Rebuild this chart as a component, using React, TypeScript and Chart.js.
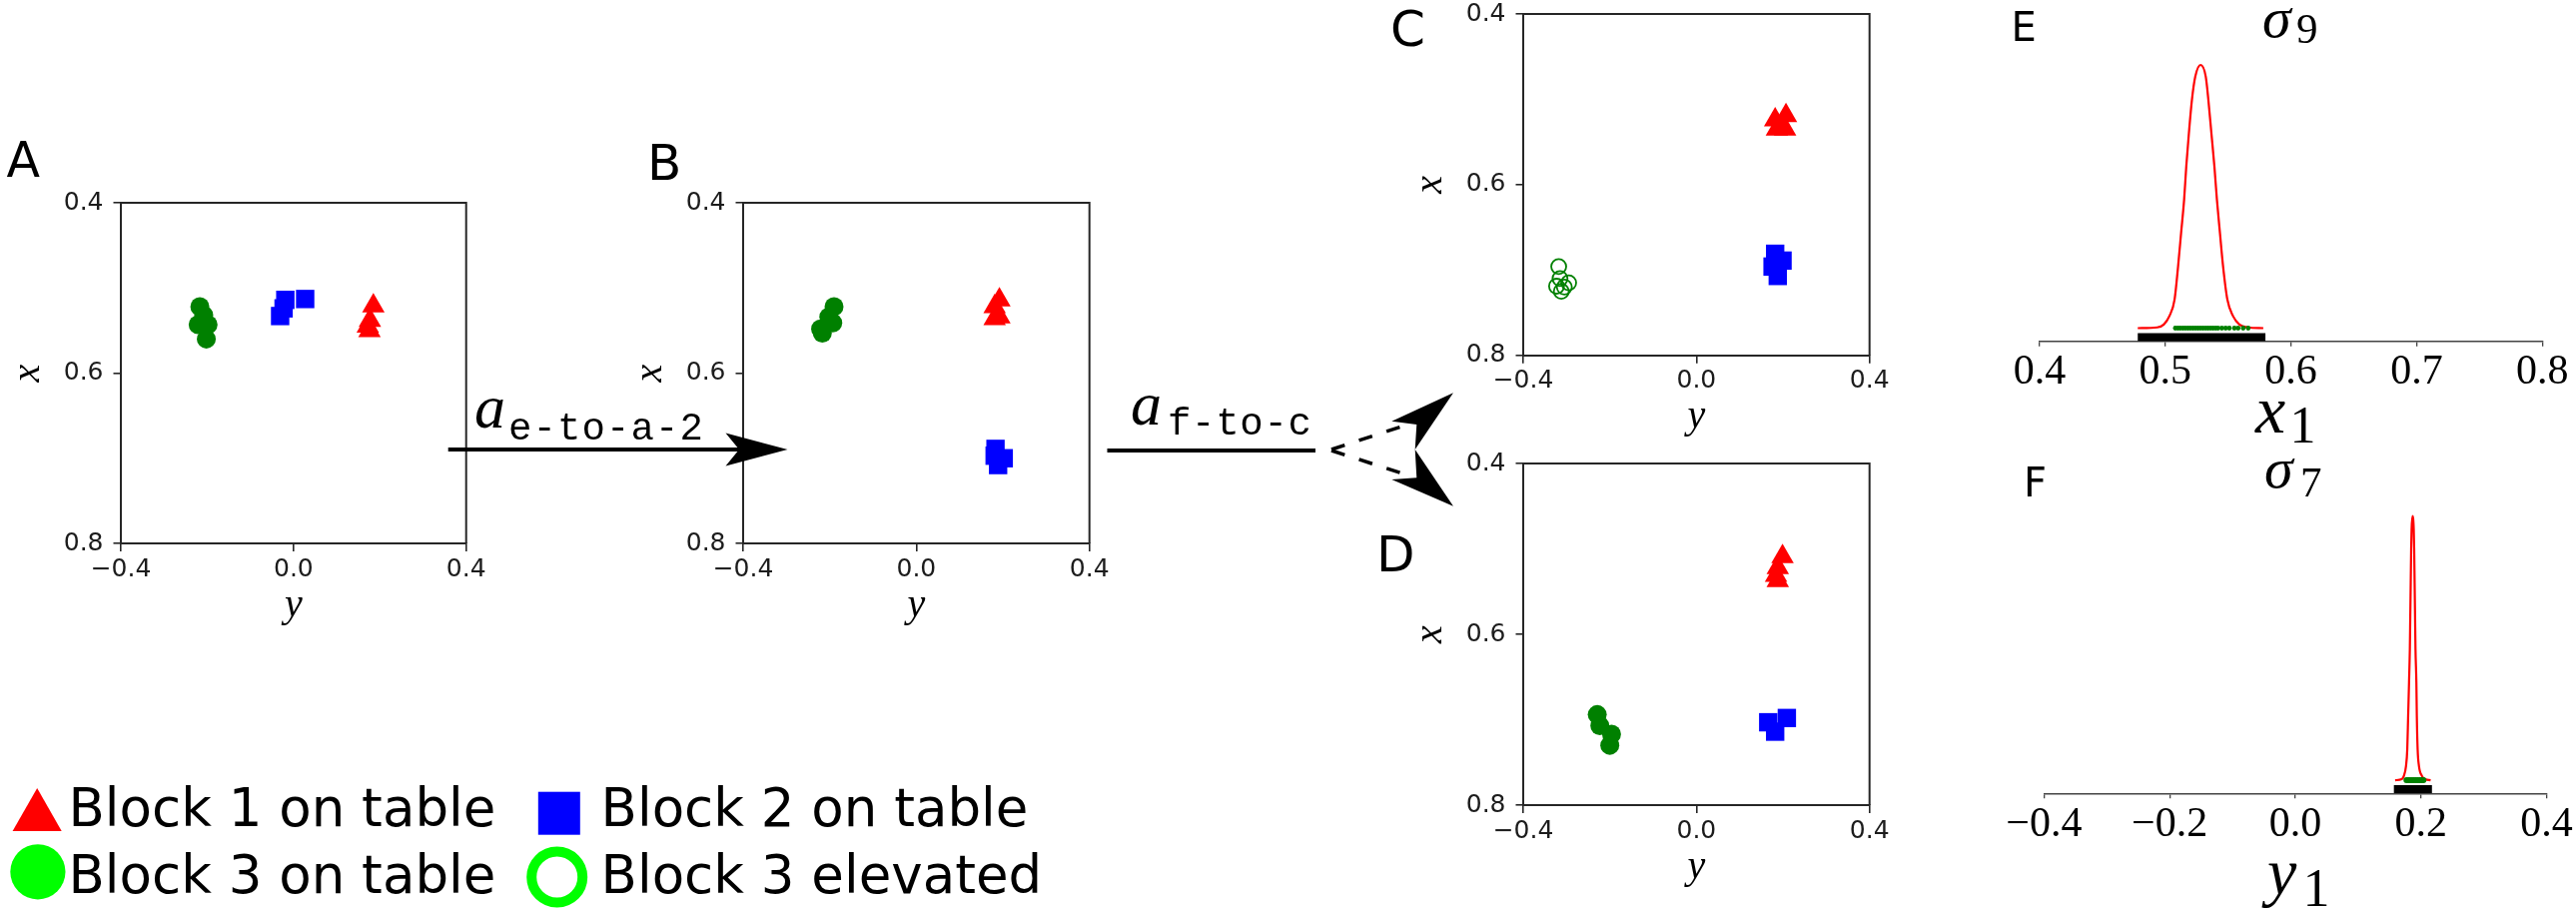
import React, { useEffect, useRef } from 'react';
import { Chart, registerables } from 'chart.js';
Chart.register(...registerables);

// ---------------- data ----------------
// scatter points are [y (horizontal axis), x (vertical axis)]
type P = [number, number];

const A_BLOCK1: P[] = [[0.185, 0.521], [0.177, 0.538], [0.172, 0.545], [0.176, 0.550]];
const A_BLOCK2: P[] = [[0.027, 0.513], [-0.019, 0.514], [-0.023, 0.524], [-0.031, 0.533]];
const A_BLOCK3: P[] = [[-0.217, 0.522], [-0.208, 0.532], [-0.221, 0.543], [-0.198, 0.543], [-0.202, 0.560]];

const B_BLOCK1: P[] = [[0.192, 0.514], [0.181, 0.522], [0.192, 0.534], [0.181, 0.536]];
const B_BLOCK2: P[] = [[0.183, 0.689], [0.202, 0.700], [0.189, 0.708], [0.181, 0.697]];
const B_BLOCK3: P[] = [[-0.190, 0.522], [-0.202, 0.534], [-0.193, 0.541], [-0.221, 0.548], [-0.217, 0.553]];

const C_BLOCK1: P[] = [[0.182, 0.524], [0.207, 0.519], [0.186, 0.535], [0.205, 0.535]];
const C_BLOCK2: P[] = [[0.182, 0.681], [0.199, 0.689], [0.176, 0.696], [0.188, 0.707]];
const C_BLOCK3_ELEVATED: P[] = [[-0.318, 0.696], [-0.315, 0.710], [-0.295, 0.715], [-0.323, 0.719], [-0.305, 0.720], [-0.312, 0.725]];

const D_BLOCK1: P[] = [[0.199, 0.509], [0.188, 0.522], [0.184, 0.531], [0.188, 0.537]];
const D_BLOCK2: P[] = [[0.166, 0.703], [0.209, 0.698], [0.182, 0.714]];
const D_BLOCK3: P[] = [[-0.229, 0.694], [-0.223, 0.707], [-0.196, 0.717], [-0.200, 0.730]];

const MAP_H_TICKS = [-0.4, 0.0, 0.4];
const MAP_H_TICK_LABELS = ['\u22120.4', '0.0', '0.4'];
const MAP_V_TICKS = [0.4, 0.6, 0.8];
const MAP_V_TICK_LABELS = ['0.4', '0.6', '0.8'];

// panel E : sigma_9 over x1
const E_X1 = [0.4781, 0.4936, 0.4988, 0.5033, 0.5074, 0.5102, 0.5126, 0.5150, 0.5167, 0.5188, 0.5212, 0.5239, 0.5281,
  0.5322, 0.5343, 0.5367, 0.5391, 0.5411, 0.5435, 0.5460, 0.5494, 0.5539, 0.5590, 0.5659, 0.5780];
const E_DENSITY = [0, 0.003, 0.014, 0.046, 0.109, 0.235, 0.362, 0.488, 0.614, 0.741, 0.867, 0.956, 1.0,
  0.956, 0.867, 0.741, 0.614, 0.488, 0.362, 0.235, 0.109, 0.046, 0.014, 0.003, 0];
const E_SAMPLES = [0.508, 0.510, 0.512, 0.514, 0.516, 0.518, 0.520, 0.522, 0.524, 0.526, 0.528, 0.530, 0.532,
  0.534, 0.536, 0.538, 0.540, 0.542, 0.545, 0.548, 0.551, 0.555, 0.558, 0.562, 0.566];
const E_RANGE = [0.4781, 0.5797];
const E_TICKS = [0.4, 0.5, 0.6, 0.7, 0.8];
const E_TICK_LABELS = ['0.4', '0.5', '0.6', '0.7', '0.8'];

// panel F : sigma_7 over y1
const F_Y1 = [0.1590, 0.1694, 0.1728, 0.1763, 0.1783, 0.1797, 0.1811, 0.1824, 0.1831, 0.1838, 0.1845, 0.1852, 0.1866,
  0.1886, 0.1893, 0.1900, 0.1907, 0.1914, 0.1928, 0.1935, 0.1948, 0.1969, 0.2017, 0.2072, 0.2155];
const F_DENSITY = [0, 0.004, 0.016, 0.054, 0.117, 0.243, 0.370, 0.496, 0.622, 0.748, 0.874, 0.950, 1.0,
  0.950, 0.874, 0.748, 0.622, 0.496, 0.370, 0.243, 0.117, 0.054, 0.016, 0.004, 0];
const F_SAMPLES = [0.177, 0.180, 0.183, 0.186, 0.189, 0.192, 0.195, 0.198, 0.201, 0.204];
const F_RANGE = [0.157, 0.2176];
const F_TICKS = [-0.4, -0.2, 0.0, 0.2, 0.4];
const F_TICK_LABELS = ['\u22120.4', '\u22120.2', '0.0', '0.2', '0.4'];

const DENSITY_MIN = -0.05;
const DENSITY_MAX = 1.0;
const RANGE_LEVEL = -0.034;

// ---------------- styles / layout ----------------
const W = 2579;
const H = 910;
const RED = '#ff0000';
const BLUE = '#0000ff';
const GREEN = '#008000';
const LIME = '#00ff00';
const AXIS = '#262626';
const TICK_TXT = '#1c1c1c';

type Rect = { L: number; T: number; R: number; B: number };
const RECT_A: Rect = { L: 121, T: 200, R: 466.7, B: 544 };
const RECT_B: Rect = { L: 744, T: 200, R: 1090.7, B: 544 };
const RECT_C: Rect = { L: 1525, T: 11, R: 1871.7, B: 355.7 };
const RECT_D: Rect = { L: 1525, T: 461.7, R: 1871.7, B: 806 };
const RECT_E: Rect = { L: 2042, T: 65, R: 2545.2, B: 341.7 };
const RECT_F: Rect = { L: 2046.4, T: 516.7, R: 2549.5, B: 794.3 };

const YW = 117; // y-axis box width in map panels
const XH = 86; // x-axis box height in map panels
const DXH = 60; // x-axis box height in density panels

function canvasBox(r: Rect, ml: number, mt: number, mr: number, mb: number, yw: number, xh: number) {
  const cl = Math.floor(r.L - ml);
  const ct = Math.floor(r.T - mt);
  const cr = Math.ceil(r.R + mr);
  const cb = Math.ceil(r.B + mb);
  return {
    left: cl, top: ct, width: cr - cl, height: cb - ct,
    padding: { left: r.L - cl - yw, top: r.T - ct, right: cr - r.R, bottom: cb - r.B - xh },
  };
}

const BOXES = [
  canvasBox(RECT_A, YW, 22, 36, XH, YW, XH),
  canvasBox(RECT_B, YW, 22, 36, XH, YW, XH),
  canvasBox(RECT_C, YW, 22, 36, XH, YW, XH),
  canvasBox(RECT_D, YW, 22, 36, XH, YW, XH),
  canvasBox(RECT_E, 60, 65, 33, DXH + 2, 0, DXH),
  canvasBox(RECT_F, 60, 66.7, 29, DXH + 2, 0, DXH),
];

const framePlugin = {
  id: 'frameTopRight',
  afterDraw(chart: any) {
    const { ctx, chartArea: a } = chart;
    ctx.save();
    ctx.strokeStyle = AXIS;
    ctx.lineWidth = 2;
    ctx.beginPath();
    ctx.moveTo(a.left, a.top);
    ctx.lineTo(a.right, a.top);
    ctx.lineTo(a.right, a.bottom);
    ctx.stroke();
    ctx.restore();
  },
};

const toPts = (arr: P[]) => arr.map(([h, v]) => ({ x: h, y: v }));

function markers(arr: P[], style: string, color: string, radius: number, hollow = false) {
  return {
    data: toPts(arr),
    showLine: false,
    pointStyle: style,
    pointRadius: radius,
    pointHoverRadius: radius,
    pointBackgroundColor: hollow ? 'rgba(0,0,0,0)' : color,
    pointBorderColor: color,
    pointBorderWidth: hollow ? 1.8 : 0,
    clip: false,
  };
}

function mapConfig(datasets: any[], box: any) {
  return {
    type: 'scatter',
    data: { datasets },
    options: {
      responsive: false,
      animation: false,
      devicePixelRatio: 1,
      events: [],
      layout: { padding: box.padding },
      plugins: { legend: { display: false }, tooltip: { enabled: false } },
      scales: {
        x: {
          type: 'linear', position: 'bottom', min: -0.4, max: 0.4,
          afterBuildTicks: (s: any) => { s.ticks = MAP_H_TICKS.map((v) => ({ value: v })); },
          afterFit: (s: any) => { s.height = XH; },
          ticks: {
            callback: (_v: any, i: number) => MAP_H_TICK_LABELS[i],
            font: { family: "'DejaVu Sans'", size: 25 }, color: TICK_TXT, padding: 3, maxRotation: 0, autoSkip: false,
          },
          grid: { drawOnChartArea: false, drawTicks: true, tickLength: 8, color: AXIS, lineWidth: 1.6 },
          border: { display: true, color: AXIS, width: 2 },
          title: { display: true, text: 'y', font: { family: "'Liberation Serif'", size: 40, style: 'italic' }, color: '#000', padding: 0 },
        },
        y: {
          type: 'linear', position: 'left', min: 0.4, max: 0.8, reverse: true,
          afterBuildTicks: (s: any) => { s.ticks = MAP_V_TICKS.map((v) => ({ value: v })); },
          afterFit: (s: any) => { s.width = YW; },
          ticks: {
            callback: (_v: any, i: number) => MAP_V_TICK_LABELS[i],
            font: { family: "'DejaVu Sans'", size: 25 }, color: TICK_TXT, padding: 10, autoSkip: false,
          },
          grid: { drawOnChartArea: false, drawTicks: true, tickLength: 7.5, color: AXIS, lineWidth: 1.6 },
          border: { display: true, color: AXIS, width: 2 },
          title: { display: true, text: 'x', font: { family: "'Liberation Serif'", size: 40, style: 'italic' }, color: '#000', padding: 0 },
        },
      },
    },
    plugins: [framePlugin],
  };
}

function densityConfig(
  xs: number[], dens: number[], samples: number[], range: number[],
  ticks: number[], labels: string[], min: number, max: number, sampleR: number, box: any,
) {
  return {
    type: 'scatter',
    data: {
      datasets: [
        {
          data: samples.map((x) => ({ x, y: 0 })),
          showLine: false, pointRadius: sampleR, pointBackgroundColor: GREEN, pointBorderWidth: 0, clip: false,
        },
        {
          data: xs.map((x, i) => ({ x, y: dens[i] })),
          showLine: true, borderColor: RED, borderWidth: 2.2, pointRadius: 0,
          cubicInterpolationMode: 'monotone', clip: false,
        },
        {
          data: range.map((x) => ({ x, y: RANGE_LEVEL })),
          showLine: true, borderColor: '#000', borderWidth: 8, borderCapStyle: 'butt', pointRadius: 0, clip: false,
        },
      ],
    },
    options: {
      responsive: false,
      animation: false,
      devicePixelRatio: 1,
      events: [],
      layout: { padding: box.padding },
      plugins: { legend: { display: false }, tooltip: { enabled: false } },
      scales: {
        x: {
          type: 'linear', position: 'bottom', min, max,
          afterBuildTicks: (s: any) => { s.ticks = ticks.map((v) => ({ value: v })); },
          afterFit: (s: any) => { s.height = DXH; },
          ticks: {
            callback: (_v: any, i: number) => labels[i],
            font: { family: "'Liberation Serif'", size: 42 }, color: '#000', padding: 1, maxRotation: 0, autoSkip: false,
          },
          grid: { drawOnChartArea: false, drawTicks: true, tickLength: 5, color: '#444', lineWidth: 1.3 },
          border: { display: true, color: '#444', width: 1.5 },
        },
        y: { type: 'linear', display: false, min: DENSITY_MIN, max: DENSITY_MAX },
      },
    },
  };
}

export default function App() {
  const refs = useRef<(HTMLCanvasElement | null)[]>([]);

  useEffect(() => {
    const configs: any[] = [
      mapConfig([
        markers(A_BLOCK3, 'circle', GREEN, 9.5),
        markers(A_BLOCK2, 'rect', BLUE, 13),
        markers(A_BLOCK1, 'triangle', RED, 13),
      ], BOXES[0]),
      mapConfig([
        markers(B_BLOCK3, 'circle', GREEN, 9.5),
        markers(B_BLOCK2, 'rect', BLUE, 13),
        markers(B_BLOCK1, 'triangle', RED, 13),
      ], BOXES[1]),
      mapConfig([
        markers(C_BLOCK3_ELEVATED, 'circle', GREEN, 7.5, true),
        markers(C_BLOCK2, 'rect', BLUE, 13),
        markers(C_BLOCK1, 'triangle', RED, 13),
      ], BOXES[2]),
      mapConfig([
        markers(D_BLOCK3, 'circle', GREEN, 9.5),
        markers(D_BLOCK2, 'rect', BLUE, 13),
        markers(D_BLOCK1, 'triangle', RED, 13),
      ], BOXES[3]),
      densityConfig(E_X1, E_DENSITY, E_SAMPLES, E_RANGE, E_TICKS, E_TICK_LABELS, 0.4, 0.8, 2.4, BOXES[4]),
      densityConfig(F_Y1, F_DENSITY, F_SAMPLES, F_RANGE, F_TICKS, F_TICK_LABELS, -0.4, 0.4, 3, BOXES[5]),
    ];
    const charts = configs.map((cfg, i) => new Chart(refs.current[i] as HTMLCanvasElement, cfg));
    return () => charts.forEach((c) => c.destroy());
  }, []);

  return (
    <div style={{ position: 'fixed', left: 0, top: 0, width: W, height: H, background: '#fff', overflow: 'hidden' }}>
      {BOXES.map((b, i) => (
        <canvas
          key={i}
          ref={(el) => { refs.current[i] = el; }}
          width={b.width}
          height={b.height}
          style={{ position: 'absolute', left: b.left, top: b.top }}
        />
      ))}
      <svg width={W} height={H} style={{ position: 'absolute', left: 0, top: 0, pointerEvents: 'none' }}>
        {/* panel letters */}
        <g fontFamily="DejaVu Sans" fill="#000">
          <text x={6.6} y={177} fontSize={49}>A</text>
          <text x={648} y={180} fontSize={50}>B</text>
          <text x={1392} y={46} fontSize={50}>C</text>
          <text x={1378} y={571.5} fontSize={50}>D</text>
          <text x={2013.5} y={41} fontSize={40}>E</text>
          <text x={2026} y={497} fontSize={40}>F</text>
        </g>

        {/* titles and axis labels of density panels */}
        <g fontFamily="Liberation Serif" fill="#000">
          <text x={2265} y={36.7} fontSize={58} fontStyle="italic">σ</text>
          <text x={2299} y={43.3} fontSize={43}>9</text>
          <text x={2267} y={488.3} fontSize={58} fontStyle="italic">σ</text>
          <text x={2303} y={496.7} fontSize={43}>7</text>
          <text x={2258} y={433.3} fontSize={68} fontStyle="italic">x</text>
          <text x={2292.5} y={443.3} fontSize={52}>1</text>
          <text x={2270} y={895} fontSize={66} fontStyle="italic">y</text>
          <text x={2305.5} y={906.7} fontSize={54}>1</text>
        </g>

        {/* action arrows */}
        <line x1={448.7} y1={450} x2={745} y2={450} stroke="#000" strokeWidth={4} />
        <polygon points="788.5,450 726.5,433.5 740,450 726.5,466.5" fill="#000" />
        <g fill="#000">
          <text x={475} y={428} fontFamily="Liberation Serif" fontStyle="italic" fontSize={62}>a</text>
          <text x={509} y={440} fontFamily="Liberation Mono" fontSize={39} textLength={195} lengthAdjust="spacing">e-to-a-2</text>
          <text x={1132} y={425} fontFamily="Liberation Serif" fontStyle="italic" fontSize={62}>a</text>
          <text x={1169} y={435} fontFamily="Liberation Mono" fontSize={39} textLength={144} lengthAdjust="spacing">f-to-c</text>
        </g>
        <line x1={1108.5} y1={451} x2={1317} y2={451} stroke="#000" strokeWidth={4} />
        <line x1={1333} y1={450} x2={1404} y2={426.7} stroke="#000" strokeWidth={3.5} strokeDasharray="14 15" />
        <line x1={1333} y1={451} x2={1404} y2={474} stroke="#000" strokeWidth={3.5} strokeDasharray="14 15" />
        <polygon points="1455,393.3 1393.3,421.7 1418.3,425 1416.7,450" fill="#000" />
        <polygon points="1455,506.7 1393.3,480 1418.3,478.3 1416.7,450" fill="#000" />

        {/* legend */}
        <polygon points="12.6,832 37.2,789 61.7,832" fill={RED} />
        <rect x={538.8} y={792.7} width={42} height={43} fill={BLUE} />
        <circle cx={37.9} cy={872.8} r={27.6} fill={LIME} />
        <circle cx={557.7} cy={878} r={25.5} fill="none" stroke={LIME} strokeWidth={10} />
        <g fontFamily="DejaVu Sans" fontSize={53} fill="#000">
          <text x={68.5} y={827}>Block 1 on table</text>
          <text x={601.6} y={827}>Block 2 on table</text>
          <text x={68.5} y={893.5}>Block 3 on table</text>
          <text x={601.6} y={893.5}>Block 3 elevated</text>
        </g>
      </svg>
    </div>
  );
}
